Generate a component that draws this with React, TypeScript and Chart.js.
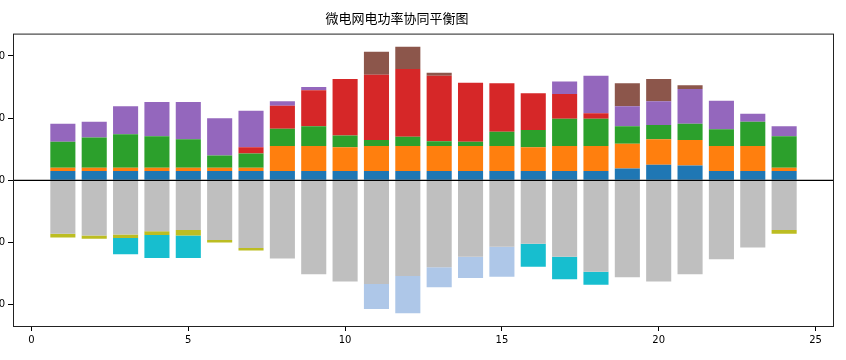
import React, { useEffect, useRef } from "react";
import { Chart, registerables } from "chart.js";

Chart.register(...registerables);

const hours = [1, 2, 3, 4, 5, 6, 7, 8, 9, 10, 11, 12, 13, 14, 15, 16, 17, 18, 19, 20, 21, 22, 23, 24];

// supply (positive)
const blueS = [15, 15, 15, 15, 15, 15, 15, 15, 15, 15, 15, 15, 15, 15, 15, 15, 15, 15, 19, 25, 24, 15, 15, 15];
const orangeS = [5, 5, 5, 5, 5, 5, 5, 40, 40, 38, 40, 40, 40, 40, 40, 38, 40, 40, 40, 41, 41, 40, 40, 5];
const greenS = [42, 49, 54, 51, 46, 20, 23, 28, 32, 19, 10, 15, 8, 7, 23, 28, 44, 44, 28, 23, 26, 27, 39, 51];
const redS = [0, 0, 0, 0, 0, 0, 10, 37, 58, 91, 105, 109, 105, 95, 78, 59, 40, 9, 0, 0, 0, 0, 0, 0];
const purpleS = [29, 25, 45, 55, 60, 60, 59, 7, 5, 0, 0, 0, 0, 0, 0, 0, 20, 60, 32, 38, 56, 46, 13, 16];
const brownS = [0, 0, 0, 0, 0, 0, 0, 0, 0, 0, 37, 36, 5, 0, 0, 0, 0, 0, 37, 36, 6, 0, 0, 0];

// demand (negative)
const greyD = [-86, -89, -87, -82, -80, -96, -109, -126, -151, -163, -167, -154, -140, -123, -107, -102, -123, -147, -156, -163, -151, -127, -108, -80];
const oliveD = [-6, -5, -6, -6, -9, -4, -4, 0, 0, 0, 0, 0, 0, 0, 0, 0, 0, 0, 0, 0, 0, 0, 0, -6];
const cyanD = [0, 0, -26, -37, -36, 0, 0, 0, 0, 0, 0, 0, 0, 0, 0, -37, -36, -21, 0, 0, 0, 0, 0, 0];
const lightBlueD = [0, 0, 0, 0, 0, 0, 0, 0, 0, 0, -40, -60, -32, -34, -48, 0, 0, 0, 0, 0, 0, 0, 0, 0];

const yTicks = [-200, -100, 0, 100, 200];
const xTicks = [0, 5, 10, 15, 20, 25];

const series: [number[], string][] = [
  [blueS, "#1f77b4"],
  [orangeS, "#ff7f0e"],
  [greenS, "#2ca02c"],
  [redS, "#d62728"],
  [purpleS, "#9467bd"],
  [brownS, "#8c564b"],
  [greyD, "#bfbfbf"],
  [oliveD, "#bcbd22"],
  [cyanD, "#17becf"],
  [lightBlueD, "#aec7e8"],
];

const framePlugin = {
  id: "frame",
  afterDatasetsDraw(chart: any) {
    const { ctx, chartArea, scales } = chart;
    const { left, right, top, bottom } = chartArea;
    ctx.save();
    ctx.strokeStyle = "#000";
    ctx.lineWidth = 1.3;
    const y0 = scales.y.getPixelForValue(0);
    ctx.beginPath();
    ctx.moveTo(left, y0);
    ctx.lineTo(right, y0);
    ctx.stroke();
    ctx.lineWidth = 1;
    ctx.strokeStyle = "#222";
    ctx.strokeRect(left + 0.5, top + 0.5, right - left - 1, bottom - top - 1);
    ctx.restore();
  },
};

export default function App() {
  const ref = useRef<HTMLCanvasElement>(null);
  useEffect(() => {
    if (!ref.current) return;
    const chart = new Chart(ref.current, {
      type: "bar",
      data: {
        datasets: series.map(([vals, color]) => ({
          data: hours.map((h, i) => ({ x: h, y: vals[i] })),
          backgroundColor: color,
          borderWidth: 0,
          categoryPercentage: 1,
          barPercentage: 0.8,
        })),
      },
      options: {
        animation: false,
        responsive: false,
        layout: { padding: { left: 0, right: 12, top: 0, bottom: 0 } },
        plugins: {
          legend: { display: false },
          tooltip: { enabled: false },
          title: {
            display: true,
            text: "微电网电功率协同平衡图",
            color: "#000",
            font: { family: "'Noto Sans CJK SC', sans-serif", size: 13, weight: "normal" },
            padding: { top: 10, bottom: 8 },
          },
        },
        scales: {
          x: {
            type: "linear",
            stacked: true,
            offset: false,
            min: -0.59,
            max: 25.59,
            afterBuildTicks: (s: any) => {
              s.ticks = xTicks.map((v) => ({ value: v }));
            },
            afterFit: (s: any) => {
              s.height = 33;
            },
            border: { display: false },
            grid: { display: true, offset: false, drawOnChartArea: false, drawTicks: true, tickLength: 4, color: "#000" },
            ticks: {
              color: "#000",
              padding: 3,
              maxRotation: 0,
              font: { family: "'DejaVu Sans', sans-serif", size: 10 },
            },
          },
          y: {
            stacked: true,
            min: -236,
            max: 236,
            afterBuildTicks: (s: any) => {
              s.ticks = yTicks.map((v) => ({ value: v }));
            },
            afterFit: (s: any) => {
              s.width = 53;
            },
            border: { display: false },
            grid: { display: true, offset: false, drawOnChartArea: false, drawTicks: true, tickLength: 5, color: "#000" },
            ticks: {
              color: "#000",
              padding: 3,
              font: { family: "'DejaVu Sans', sans-serif", size: 10 },
            },
          },
        },
      },
      plugins: [framePlugin],
    } as any);
    return () => chart.destroy();
  }, []);
  return (
    <div style={{ position: "fixed", left: -40, top: 0, width: 886, height: 360, background: "#fff" }}>
      <canvas ref={ref} width={886} height={360} />
    </div>
  );
}
